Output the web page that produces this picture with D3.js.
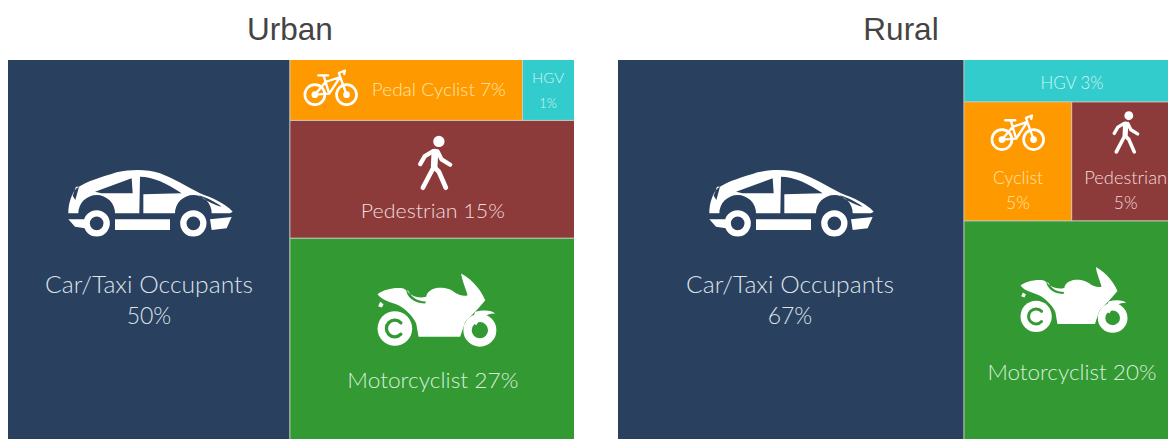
<!DOCTYPE html>
<html>
<head>
<meta charset="utf-8">
<script src="https://cdn.jsdelivr.net/npm/d3@7"></script>
<style>
	html, body { margin: 0; padding: 0; background: #fff; overflow: hidden; }
	.title { font-family: "Liberation Sans", Arial, sans-serif; font-size: 31.5px; fill: #444; text-anchor: middle; }
	.label { font-family: Lato, sans-serif; font-weight: 300; text-anchor: middle; }
	.divider { fill: none; stroke: #c9c9c0; stroke-width: 1px; }
	.icon-fill { fill: #fff; stroke: none; }
	.icon-line { fill: none; stroke: #fff; stroke-linecap: round; stroke-linejoin: round; }
</style>
</head>
<body>
<div id="chart"></div>
<script>
var urbanCategories = ['Car/Taxi Occupants', 'Pedal Cyclist', 'HGV', 'Pedestrian', 'Motorcyclist'];
var urbanValues = [50, 7, 1, 15, 27];
// the boxes in the picture are not quite in proportion to the labels, so their areas are read separately
var urbanAreas = [49.8, 6.55, 1.45, 15.6, 26.6];

var ruralCategories = ['Car/Taxi Occupants', 'HGV', 'Cyclist', 'Pedestrian', 'Motorcyclist'];
var ruralValues = [67, 3, 5, 5, 20];
var ruralAreas = [62.9, 4.1, 6.15, 5.5, 21.35];

var colors = d3.scaleOrdinal()
	.domain(['Car/Taxi Occupants', 'Pedal Cyclist', 'Cyclist', 'HGV', 'Pedestrian', 'Motorcyclist'])
	.range(['#29405e', '#ff9900', '#ff9900', '#33cccc', '#8c3a3a', '#339933']);

var textColors = d3.scaleOrdinal()
	.domain(['Car/Taxi Occupants', 'Pedal Cyclist', 'Cyclist', 'HGV', 'Pedestrian', 'Motorcyclist'])
	.range(['#dde3ea', '#ffe4ac', '#ffe4ac', '#d0f4f4', '#f2dcdb', '#d8eed8']);

// icons are drawn around 0,0 at 3x and scaled down
function drawCar(g) {
	g.append('path').attr('class', 'icon-fill').attr('fill-rule', 'evenodd').attr('d',
		'M-245,25 C-245,-5 -235,-35 -220,-50 C-190,-72 -140,-85 -100,-98 C-50,-108 -10,-107 30,-95 ' +
		'C70,-80 110,-55 150,-35 C190,-20 225,-5 248,20 L240,25 L185,25 A55,55 0 0 0 75,25 ' +
		'L-105,25 A55,55 0 0 0 -215,25 Z ' +
		'M-165,-40 L-55,-80 L-52,-35 L-145,-35 Z ' +
		'M-30,-85 C10,-85 50,-65 95,-35 L-20,-32 L-20,25 L-32,25 Z ' +
		'M-232,-28 L-222,-55 L-213,-55 L-224,-15 Z ' +
		'M145,-30 C175,-20 195,-10 215,5 C190,0 165,-15 145,-30 Z');
	g.append('path').attr('class', 'icon-fill').attr('d',
		'M-245,43 L-198,43 L-195,70 L-225,65 Z M-105,43 L60,43 L60,75 L-105,75 Z M180,43 L245,36 L230,70 L185,75 Z');
	[-160, 130].forEach(function(cx) {
		g.append('circle').attr('class', 'icon-line').attr('cx', cx).attr('cy', 55).attr('r', 30).style('stroke-width', 19);
	});
}

function drawBike(g) {
	[[-48, 20], [47, 20]].forEach(function(c) {
		g.append('circle').attr('class', 'icon-line').attr('cx', c[0]).attr('cy', c[1]).attr('r', 30).style('stroke-width', 8);
		g.append('circle').attr('class', 'icon-fill').attr('cx', c[0]).attr('cy', c[1]).attr('r', 10);
	});
	g.append('path').attr('class', 'icon-line').style('stroke-width', 7).attr('d',
		'M-38,-38 L-8,-38 M-22,-38 L-5,17 M-48,20 L-16,-18 L28,-33 L-5,17 L-48,20 ' +
		'M47,20 L28,-33 L24,-45 L42,-52 L40,-42');
}

function drawWalker(g) {
	g.append('circle').attr('class', 'icon-fill').attr('cx', 12).attr('cy', -66).attr('r', 17);
	g.append('path').attr('class', 'icon-line').style('stroke-width', 13).attr('d',
		'M-6,-36 L-30,-22 L-44,2 M8,-36 L20,-12 L46,4');
	g.append('path').attr('class', 'icon-line').style('stroke-width', 20).attr('d', 'M0,-34 L-2,8');
	g.append('path').attr('class', 'icon-line').style('stroke-width', 14).attr('d',
		'M-3,10 L-36,73 M-3,10 L12,25 L33,73');
}

function drawMoto(g, color) {
	g.append('path').attr('class', 'icon-fill').attr('fill-rule', 'evenodd').attr('d',
		'M-178,-48 C-160,-62 -125,-70 -100,-65 L-90,-58 C-75,-40 -55,-35 -32,-40 C-30,-55 -15,-65 5,-67 ' +
		'C25,-68 45,-62 55,-52 C70,-42 85,-42 92,-45 C85,-70 75,-90 73,-110 C110,-90 135,-55 145,-30 ' +
		'C125,-5 95,25 85,35 L70,80 L-55,80 L-62,40 C-70,20 -95,-5 -115,-15 C-140,-25 -165,-30 -178,-48 Z ' +
		'M-92,-58 C-85,-30 -60,-20 -35,-20 L-33,-26 C-60,-27 -75,-38 -86,-58 Z');
	g.append('path').attr('class', 'icon-fill').attr('d',
		'M-170,-25 L-160,-18 L-165,-8 L-176,-12 Z M115,5 C140,-2 165,0 175,10 C150,8 130,25 118,45 L105,35 Z');
	g.append('circle').attr('class', 'icon-fill').attr('cx', -126).attr('cy', 55).attr('r', 52);
	g.append('path').attr('class', 'icon-line').style('stroke', color).style('stroke-width', 10).attr('d',
		'M-108,38 A25,25 0 1 0 -108,72');
	g.append('circle').attr('class', 'icon-line').attr('cx', 129).attr('cy', 60).attr('r', 37).style('stroke-width', 25);
}

var icons = { car: drawCar, bike: drawBike, walker: drawWalker, moto: drawMoto };

// where labels and icons go in each box: x,y measured from the left/top of the box, len is the width of the first line
var urbanPlaces = {
	'Car/Taxi Occupants': { size: 23, len: 208, x: 141, lines: [233, 264], icon: 'car', ix: 142, iy: 145, s: 1 / 3 },
	'Pedal Cyclist': { size: 17.5, len: 134, x: 149, lines: [36], icon: 'bike', ix: 41, iy: 28, s: 1 / 3 },
	'HGV': { size: 13, len: 32, x: 25.5, lines: [23, 48] },
	'Pedestrian': { size: 20, len: 144, x: 143, lines: [98], icon: 'walker', ix: 145, iy: 43, s: 1 / 3 },
	'Motorcyclist': { size: 21, len: 171, x: 143, lines: [150], icon: 'moto', ix: 147, iy: 72, s: 1 / 3 }
};

var ruralPlaces = {
	'Car/Taxi Occupants': { size: 23, len: 208, x: 172, lines: [233, 264], icon: 'car', ix: 173, iy: 145, s: 1 / 3 },
	'HGV': { size: 17.5, len: 63, x: 108, lines: [29] },
	'Cyclist': { size: 17.5, len: 50, x: 54, lines: [82, 107], icon: 'bike', ix: 54, iy: 31, s: 1 / 3 },
	'Pedestrian': { size: 17.5, len: 83, x: 54, lines: [82, 107], icon: 'walker', ix: 54, iy: 31, s: 0.26 },
	'Motorcyclist': { size: 21, len: 169, x: 108, lines: [159], icon: 'moto', ix: 110, iy: 79, s: 0.3 }
};

var urbanRows = [
	{ name: 'Car/Taxi Occupants' },
	{ children: [
		{ children: [{ name: 'Pedal Cyclist' }, { name: 'HGV' }] },
		{ name: 'Pedestrian' },
		{ name: 'Motorcyclist' }
	] }
];

var ruralRows = [
	{ name: 'Car/Taxi Occupants' },
	{ children: [
		{ name: 'HGV' },
		{ children: [{ name: 'Cyclist' }, { name: 'Pedestrian' }] },
		{ name: 'Motorcyclist' }
	] }
];

// left column, then rows on the right, then boxes side by side inside a row
function tile(node, x0, y0, x1, y1) {
	if (node.depth === 1)
		d3.treemapSlice(node, x0, y0, x1, y1);
	else
		d3.treemapDice(node, x0, y0, x1, y1);
}

var svg = d3.select('#chart')
	.append('svg')
	.attr('width', 1168)
	.attr('height', 439)
	.style('display', 'block');

function drawPanel(options) {
	var root = d3.hierarchy({ children: options.rows })
		.sum(function(d) {
			return d.children ? 0 : options.areas[options.categories.indexOf(d.name)];
		});

	d3.treemap().tile(tile).size([options.w, options.h])(root);

	var panel = svg.append('g')
		.attr('transform', 'translate(' + options.x + ',' + options.y + ')');

	svg.append('text')
		.attr('class', 'title')
		.attr('x', options.titleX)
		.attr('y', 40)
		.text(options.title);

	var cells = panel.selectAll('g')
		.data(root.leaves())
		.enter()
		.append('g')
		.attr('transform', function(d) { return 'translate(' + d.x0 + ',' + d.y0 + ')'; });

	cells.append('rect')
		.attr('width', function(d) { return d.x1 - d.x0; })
		.attr('height', function(d) { return d.y1 - d.y0; })
		.attr('fill', function(d) { return colors(d.data.name); });

	// thin light lines only where two boxes meet, the outer edges have none
	var lines = d3.path();
	root.leaves().forEach(function(d) {
		if (d.x0 > 0) {
			lines.moveTo(d.x0, d.y0);
			lines.lineTo(d.x0, d.y1);
		}
		if (d.y0 > 0) {
			lines.moveTo(d.x0, d.y0);
			lines.lineTo(d.x1, d.y0);
		}
	});
	panel.append('path').attr('class', 'divider').attr('d', lines.toString());

	cells.each(function(d) {
		var place = options.places[d.data.name],
			cell = d3.select(this),
			value = options.values[options.categories.indexOf(d.data.name)] + '%';

		if (place.icon)
			icons[place.icon](cell.append('g')
				.attr('transform', 'translate(' + place.ix + ',' + place.iy + ') scale(' + place.s + ')'), colors(d.data.name));

		var labels = place.lines.length > 1 ? [d.data.name, value] : [d.data.name + ' ' + value];

		cell.selectAll('text')
			.data(labels)
			.enter()
			.append('text')
			.attr('class', 'label')
			.attr('x', place.x)
			.attr('y', function(t, i) { return place.lines[i]; })
			.attr('font-size', place.size)
			.attr('fill', textColors(d.data.name))
			.attr('textLength', function(t, i) { return i === 0 ? place.len : null; })
			.attr('lengthAdjust', 'spacingAndGlyphs')
			.text(function(t) { return t; });
	});

	// dividers go over the boxes but under nothing else
	panel.select('.divider').raise();
}

drawPanel({
	title: 'Urban', titleX: 290,
	x: 8, y: 60, w: 566, h: 379,
	categories: urbanCategories, values: urbanValues, areas: urbanAreas,
	rows: urbanRows, places: urbanPlaces
});

drawPanel({
	title: 'Rural', titleX: 901,
	x: 618, y: 60, w: 550, h: 379,
	categories: ruralCategories, values: ruralValues, areas: ruralAreas,
	rows: ruralRows, places: ruralPlaces
});
</script>
</body>
</html>
